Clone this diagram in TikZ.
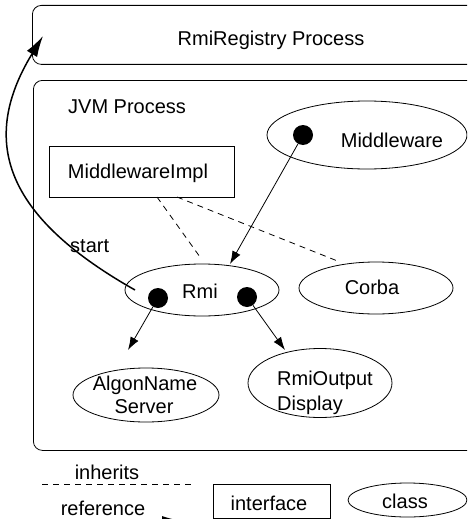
\documentclass[tikz,border=0pt]{standalone}
\usepackage{fontspec}
\setmainfont{Liberation Sans}
\usetikzlibrary{shapes.geometric,arrows.meta}
\begin{document}
\begin{tikzpicture}[x=1pt,y=-1pt,
  every node/.style={font=\fontsize{20}{24}\selectfont,inner sep=0pt},
  txt/.style={anchor=base},
  proc/.style={draw,line width=0.8pt,rounded corners=9pt,anchor=north west},
  cls/.style={draw,ellipse,line width=0.8pt},
  iface/.style={draw,rectangle,line width=0.8pt},
  dotnode/.style={circle,fill=black,minimum size=20pt},
  refarrow/.style={-{Latex[length=13pt,width=9pt]},line width=0.8pt},
  inh/.style={line width=0.8pt,dash pattern=on 6pt off 5pt},
  startarrow/.style={-{Latex[length=21pt,width=12pt]},line width=1.5pt}]
\useasboundingbox (0,0) rectangle (467,519);
\clip (0,0) rectangle (467,519);

% process boxes
\node[proc,minimum width=460pt,minimum height=59pt] (reg) at (32,5) {};
\node[txt] (regtext) at (271,46) {RmiRegistry Process};
\node[proc,minimum width=460pt,minimum height=370pt] (jvm) at (33,80) {};
\node[txt,anchor=base west] (jvmtext) at (68,113) {JVM Process};

% Middleware
\node[cls,minimum width=200pt,minimum height=68pt] (mw) at (367,135) {};
\node[txt] (mwtext) at (392,147) {Middleware};
\node[dotnode] (mwdot) at (303,135) {};

% MiddlewareImpl
\node[iface,minimum width=185pt,minimum height=51pt] (mwi) at (141.5,171.5) {};
\node[txt] (mwitext) at (138,178) {MiddlewareImpl};

% Rmi
\node[cls,minimum width=154pt,minimum height=52pt] (rmi) at (202,290) {};
\node[txt] (rmitext) at (200,298) {Rmi};
\node[dotnode] (rmidotL) at (158,298) {};
\node[dotnode] (rmidotR) at (247,297) {};

% Corba
\node[cls,minimum width=154pt,minimum height=52pt] (corba) at (376,288) {};
\node[txt] (corbatext) at (372,294) {Corba};

% AlgonName Server
\node[cls,minimum width=146pt,minimum height=54pt] (alg) at (146,395) {};
\node[txt] (algtext1) at (145,390) {AlgonName};
\node[txt] (algtext2) at (144,413) {Server};

% RmiOutput Display
\node[cls,minimum width=144pt,minimum height=69pt] (rout) at (320,383) {};
\node[txt,anchor=base west] (routtext1) at (277,385) {RmiOutput};
\node[txt,anchor=base west] (routtext2) at (277,410) {Display};

% connector end points
\coordinate (rmitop) at (230,264);
\coordinate (algtop) at (128,350);
\coordinate (routtop) at (285,350);
\coordinate (rmiin1) at (200,257);
\coordinate (corbain) at (340,262);
\coordinate (mwiout1) at (157,197);
\coordinate (mwiout2) at (177,197);
\coordinate (rmistart) at (135,290);
\coordinate (regin) at (43,36);

% inheritance (dashed)
\draw[inh] (mwiout1) -- (rmiin1);
\draw[inh] (mwiout2) -- (corbain);

% references
\draw[refarrow] (mwdot) -- (rmitop);
\draw[refarrow] (rmidotL) -- (algtop);
\draw[refarrow] (rmidotR) -- (routtop);

% start arrow
\draw[startarrow] (rmistart) .. controls (13,221) and (-25,147) .. (regin);
\node[txt,anchor=base west] (starttext) at (70,252) {start};

% legend
\node[txt] (inhtext) at (107,479) {inherits};
\coordinate (inhA) at (42,484);
\coordinate (inhB) at (193,484);
\draw[inh] (inhA) -- (inhB);
\node[txt] (reftext) at (103,515) {reference};
\coordinate (refA) at (42,523);
\coordinate (refB) at (192,523);
\draw[startarrow,-{Latex[length=30pt,width=14pt]}] (refA) -- (refB);
\node[iface,minimum width=117pt,minimum height=34pt] (ifacebox) at (271.5,501) {};
\node[txt] (ifacetext) at (269,510) {interface};
\node[cls,minimum width=119pt,minimum height=34pt] (clsbox) at (407.5,500) {};
\node[txt] (clstext) at (405,508) {class};
\end{tikzpicture}
\end{document}
